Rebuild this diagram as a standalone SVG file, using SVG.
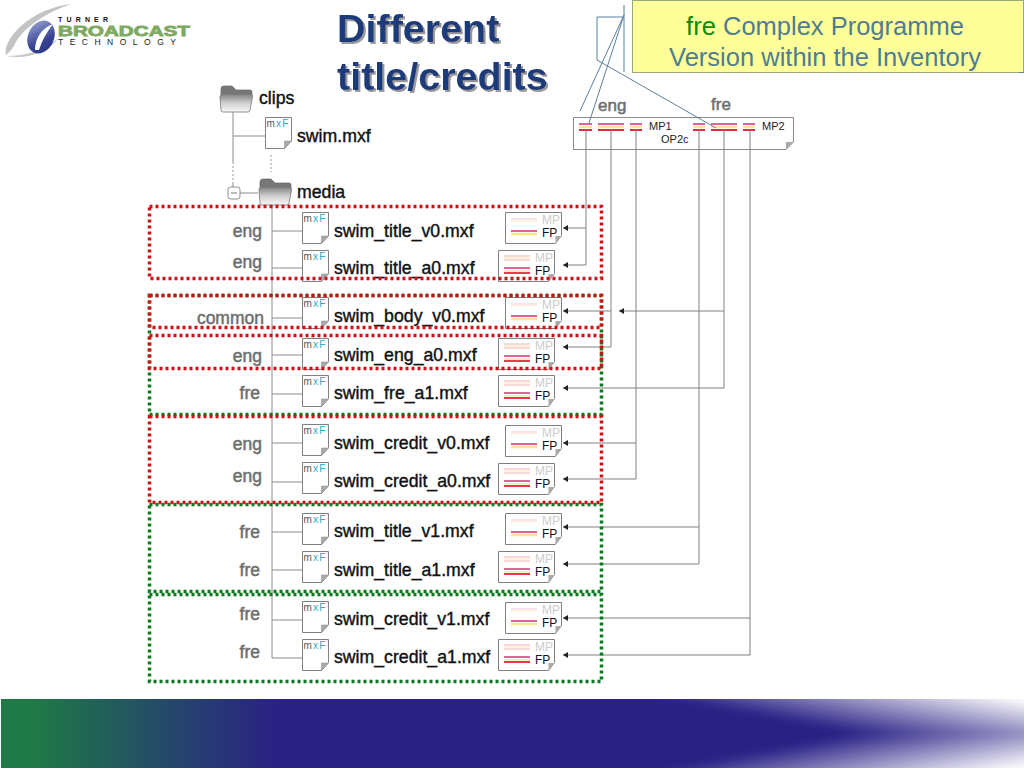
<svg xmlns="http://www.w3.org/2000/svg" width="1024" height="768" viewBox="0 0 1024 768">
<style>
text{font-family:"Liberation Sans",Arial,sans-serif}
.conn{fill:none;stroke:#808080;stroke-width:1}
.tree{fill:none;stroke:#8c8c8c;stroke-width:1}
.dots{fill:none;stroke:#999;stroke-width:1;stroke-dasharray:2 2}
.call{fill:none;stroke:#5b80a0;stroke-width:1}
.fname{font-size:17.700px;fill:#111;stroke:#111;stroke-width:.4}
.lang{font-size:17.500px;fill:#6e6e6e;stroke:#6e6e6e;stroke-width:.5;text-anchor:end}
.head{font-size:17px;fill:#6e6e6e;stroke:#6e6e6e;stroke-width:.5}
.red{fill:none;stroke:#d40f14;stroke-width:3.500;stroke-dasharray:3 3}
.green{fill:none;stroke:#0a7a1e;stroke-width:3.500;stroke-dasharray:3 3}
.mp{font-size:12px;fill:#ccc}
.fp{font-size:12px;fill:#111}
.mx{font-size:10px;fill:#555;letter-spacing:1.200px}
.mx tspan{fill:#2aa8c8}
.t{font-size:11px;fill:#222}
.title{font-size:39.500px;font-weight:bold;fill:#1d3b7a;filter:url(#sh)}
.yt{font-size:25.500px;fill:#4f7c90;text-anchor:middle}
</style>
<defs>
<linearGradient id="band" x1="0" x2="1024" y1="0" y2="0" gradientUnits="userSpaceOnUse">
<stop offset="0" stop-color="#1e7a46"/><stop offset=".03" stop-color="#1e7a46"/><stop offset=".27" stop-color="#2a2185"/><stop offset="1" stop-color="#2a2185"/>
</linearGradient>
<linearGradient id="fadeT" gradientUnits="userSpaceOnUse" x1="850" y1="733" x2="862" y2="669">
<stop offset="0" stop-color="#fff" stop-opacity="0"/><stop offset="1" stop-color="#fff"/>
</linearGradient>
<linearGradient id="fadeB" gradientUnits="userSpaceOnUse" x1="850" y1="734" x2="862" y2="798">
<stop offset="0" stop-color="#fff" stop-opacity="0"/><stop offset="1" stop-color="#fff"/>
</linearGradient>
<linearGradient id="fold" x1="0" y1="0" x2="0" y2="1">
<stop offset="0" stop-color="#808080"/><stop offset=".5" stop-color="#cfcfcf"/><stop offset="1" stop-color="#f8f8f8"/>
</linearGradient>
<linearGradient id="orb" x1="0" y1="0" x2="1" y2="1">
<stop offset="0" stop-color="#a4aed8"/><stop offset=".6" stop-color="#3a4596"/><stop offset="1" stop-color="#26307e"/>
</linearGradient>
<clipPath id="bandClip"><rect x="1" y="699" width="1023" height="69"/></clipPath>
<filter id="sh" x="-5%" y="-5%" width="110%" height="115%">
<feDropShadow dx="2" dy="2" stdDeviation=".6" flood-color="#9a9a9a"/>
</filter>
<filter id="soft" x="-5%" y="-5%" width="110%" height="110%" color-interpolation-filters="sRGB">
<feGaussianBlur stdDeviation="4"/>
</filter>
<g id="folder">
<path d="M1 8V3Q1 0 4 0H12L16 4H30Q32 4 32 6V10H1Z" fill="#777" stroke="#666" stroke-width=".7"/>
<path d="M0 11Q0 8 3 8H29Q33 8 32.500 11L30 24Q30 26 28 26H3Q1 26 1 24Z" fill="url(#fold)" stroke="#777" stroke-width=".8"/>
</g>
<g id="doc">
<path d="M.5 .5H26.500V23.500L19.500 31.500H.5Z" fill="#fff" stroke="#808080"/>
<path d="M26.500 24L19.500 31.500V24Z" fill="#aaa" stroke="#888" stroke-width=".5"/>
<text class="mx" x="1.500" y="10">m<tspan>xF</tspan></text>
</g>
<g id="icoV">
<path d="M.5 .5H56.500V23.500L50.500 31.500H.5Z" fill="#fff" stroke="#808080"/>
<path d="M56.500 24L50.500 31.500V24Z" fill="#aaa"/>
<path d="M6 7H32" stroke="#f8d8e4" stroke-width="1.500"/>
<path d="M6 9H32" stroke="#fdf2d8" stroke-width="1.500"/>
<path d="M6 19H32" stroke="#e6609c" stroke-width="2"/>
<path d="M6 22H32" stroke="#fbe68c" stroke-width="2.500"/>
</g>
<g id="icoA">
<path d="M.5 .5H56.500V23.500L50.500 31.500H.5Z" fill="#fff" stroke="#808080"/>
<path d="M56.500 24L50.500 31.500V24Z" fill="#aaa"/>
<path d="M6 6H32M6 10H32" stroke="#f8ccd0" stroke-width="1.500"/>
<path d="M6 8H32" stroke="#fdf0d0" stroke-width="1.500"/>
<path d="M6 18H32" stroke="#e6609c" stroke-width="2"/>
<path d="M6 21H32" stroke="#fbd88c" stroke-width="1"/>
<path d="M6 23H32" stroke="#e83c4c" stroke-width="2"/>
</g>
<path id="ah" d="M0 0L5 -3V3Z" fill="#222"/>
</defs>

<rect x="0" y="0" width="1024" height="768" fill="#fff"/>

<g id="footer">
<rect x="1" y="699" width="1023" height="69" fill="url(#band)"/>
<g clip-path="url(#bandClip)"><g filter="url(#soft)">
<rect x="560" y="620" width="520" height="113.500" fill="url(#fadeT)"/>
<rect x="560" y="733.500" width="520" height="113.500" fill="url(#fadeB)"/>
</g></g>
</g>

<g id="logo">
<path d="M6 55C2 40 30 8 72 4C46 12 24 28 16 42C13 48 10 52 6 55Z" fill="#c4c4c4"/>
<path d="M6 56C26 56 46 50 58 38C50 52 26 60 6 56Z" fill="#c8c8c8"/>
<ellipse cx="41" cy="37" rx="13" ry="17" transform="rotate(25 41 37)" fill="url(#orb)"/>
<path d="M35 50C35 38 42 28 53 24C47 32 42 40 39 50Z" fill="#fff"/>
<text x="58" y="21.500" font-size="7" font-weight="bold" fill="#111" textLength="50" lengthAdjust="spacing">TURNER</text>
<text x="58" y="36" font-size="14.500" font-weight="bold" fill="#7eaa62" stroke="#7eaa62" stroke-width=".8" textLength="132" lengthAdjust="spacingAndGlyphs">BROADCAST</text>
<text x="58" y="45" font-size="8.500" fill="#222" textLength="118" lengthAdjust="spacing">TECHNOLOGY</text>
</g>

<g id="heading">
<text class="title" x="337" y="42">Different</text>
<text class="title" x="337" y="90">title/credits</text>
</g>

<g id="callout">
<rect x="632.500" y="0.500" width="391" height="72" fill="#ffff99" stroke="#9aa878"/>
<path d="M1019 72.500H1024" stroke="#5b80a0"/>
<text class="yt" x="825" y="35"><tspan fill="#0a8a0a">fre</tspan> Complex Programme</text>
<text class="yt" x="825" y="66">Version within the Inventory</text>
</g>

<g id="op2c">
<path d="M573.500 117.500H793.500V142L786 149.500H573.500Z" fill="#fff" stroke="#8a8a8a"/>
<path d="M793.500 142L786 149.500V142Z" fill="#aaa"/>
<path d="M579 124H592M598 124H624M630 124H642M693 124H705M711 124H737M743 124H755" stroke="#e060a8" stroke-width="2"/>
<path d="M579 127H592M598 127H624M630 127H642M693 127H705M711 127H737M743 127H755" stroke="#fbe68c" stroke-width="2.500"/>
<path d="M579 130H592M598 130H624M630 130H642M693 130H705M711 130H737M743 130H755" stroke="#e02c3c" stroke-width="2"/>
<text class="t" x="649" y="130">MP1</text>
<text class="t" x="661" y="143">OP2c</text>
<text class="t" x="762" y="130">MP2</text>
<text class="head" x="598" y="111">eng</text>
<text class="head" x="711" y="110">fre</text>
</g>

<g id="connectors">
<path class="call" d="M624 5V72M597 17H623M597 17V60L716 128M624 15L580 111M624 15L589 123"/>
<path class="tree" d="M233 112V162M233 136H265M233 183V187M240 193H258M272 205V658"/>
<path class="dots" d="M233 162V183M271 155V172"/>
<path class="tree" d="M272 231H302M272 268H302M272 318H302M272 355H302M272 394H302M272 443H302M272 482H302M272 532H302M272 570H302M272 620H302M272 658H302"/>
<path class="conn" d="M586 130V265H563M586 228H563"/>
<path class="conn" d="M611 130V347H563M611 311H563"/>
<path class="conn" d="M636 130V479H563M636 443H563"/>
<path class="conn" d="M699 130V564H563M699 527H563"/>
<path class="conn" d="M724 130V388H563M724 311H619"/>
<path class="conn" d="M750 130V655H563M750 618H563"/>
<use href="#ah" x="563" y="228"/><use href="#ah" x="563" y="265"/><use href="#ah" x="563" y="311"/><use href="#ah" x="619" y="311"/><use href="#ah" x="563" y="347"/><use href="#ah" x="563" y="388"/><use href="#ah" x="563" y="443"/><use href="#ah" x="563" y="479"/><use href="#ah" x="563" y="527"/><use href="#ah" x="563" y="564"/><use href="#ah" x="563" y="618"/><use href="#ah" x="563" y="655"/>
</g>

<g id="clips"><use href="#folder" x="220" y="86"/><text class="fname" x="259" y="104">clips</text></g>
<g id="swim"><use href="#doc" x="265" y="117"/><text class="fname" x="297" y="142">swim.mxf</text></g>
<g id="collapse"><rect x="228" y="187" width="12" height="12" rx="2.500" fill="#fff" stroke="#8c8c8c"/><path d="M231 193H237" stroke="#777"/></g>
<g id="media"><use href="#folder" x="259" y="179"/><text class="fname" x="297" y="198">media</text></g>

<g id="row-title-v0"><text class="lang" x="262" y="237">eng</text><use href="#doc" x="302" y="212"/><text class="fname" x="334" y="237">swim_title_v0.mxf</text><use href="#icoV" x="505" y="212"/><text class="mp" x="542" y="224">MP</text><text class="fp" x="542" y="237">FP</text></g>
<g id="row-title-a0"><text class="lang" x="262" y="268">eng</text><use href="#doc" x="302" y="250"/><text class="fname" x="334" y="274">swim_title_a0.mxf</text><use href="#icoA" x="498" y="250"/><text class="mp" x="535" y="262">MP</text><text class="fp" x="535" y="275">FP</text></g>
<g id="row-body-v0"><text class="lang" x="264" y="324">common</text><use href="#doc" x="302" y="297"/><text class="fname" x="334" y="322">swim_body_v0.mxf</text><use href="#icoV" x="505" y="297"/><text class="mp" x="542" y="309">MP</text><text class="fp" x="542" y="322">FP</text></g>
<g id="row-eng-a0"><text class="lang" x="262" y="362">eng</text><use href="#doc" x="302" y="338"/><text class="fname" x="334" y="361">swim_eng_a0.mxf</text><use href="#icoA" x="498" y="338"/><text class="mp" x="535" y="350">MP</text><text class="fp" x="535" y="363">FP</text></g>
<g id="row-fre-a1"><text class="lang" x="260" y="399">fre</text><use href="#doc" x="302" y="375"/><text class="fname" x="334" y="399">swim_fre_a1.mxf</text><use href="#icoA" x="498" y="375"/><text class="mp" x="535" y="387">MP</text><text class="fp" x="535" y="400">FP</text></g>
<g id="row-credit-v0"><text class="lang" x="262" y="450">eng</text><use href="#doc" x="302" y="424"/><text class="fname" x="334" y="449">swim_credit_v0.mxf</text><use href="#icoV" x="505" y="425"/><text class="mp" x="542" y="437">MP</text><text class="fp" x="542" y="450">FP</text></g>
<g id="row-credit-a0"><text class="lang" x="262" y="482">eng</text><use href="#doc" x="302" y="462"/><text class="fname" x="334" y="487">swim_credit_a0.mxf</text><use href="#icoA" x="498" y="463"/><text class="mp" x="535" y="475">MP</text><text class="fp" x="535" y="488">FP</text></g>
<g id="row-title-v1"><text class="lang" x="260" y="538">fre</text><use href="#doc" x="302" y="513"/><text class="fname" x="334" y="537">swim_title_v1.mxf</text><use href="#icoV" x="505" y="513"/><text class="mp" x="542" y="525">MP</text><text class="fp" x="542" y="538">FP</text></g>
<g id="row-title-a1"><text class="lang" x="260" y="576">fre</text><use href="#doc" x="302" y="551"/><text class="fname" x="334" y="576">swim_title_a1.mxf</text><use href="#icoA" x="498" y="551"/><text class="mp" x="535" y="563">MP</text><text class="fp" x="535" y="576">FP</text></g>
<g id="row-credit-v1"><text class="lang" x="260" y="620">fre</text><use href="#doc" x="302" y="601"/><text class="fname" x="334" y="625">swim_credit_v1.mxf</text><use href="#icoV" x="505" y="602"/><text class="mp" x="542" y="614">MP</text><text class="fp" x="542" y="627">FP</text></g>
<g id="row-credit-a1"><text class="lang" x="260" y="658">fre</text><use href="#doc" x="302" y="639"/><text class="fname" x="334" y="663">swim_credit_a1.mxf</text><use href="#icoA" x="498" y="639"/><text class="mp" x="535" y="651">MP</text><text class="fp" x="535" y="664">FP</text></g>

<g id="groups">
<rect class="green" x="149.500" y="295.500" width="452" height="119"/>
<rect class="red" x="149.500" y="206.500" width="452" height="72"/>
<rect class="red" x="149.500" y="295.500" width="452" height="32"/>
<rect class="red" x="149.500" y="335.500" width="452" height="33"/>
<rect class="red" x="149.500" y="416.500" width="452" height="86"/>
<rect class="green" x="149.500" y="504.500" width="452" height="87"/>
<rect class="green" x="149.500" y="594.500" width="452" height="87"/>
</g>
</svg>
